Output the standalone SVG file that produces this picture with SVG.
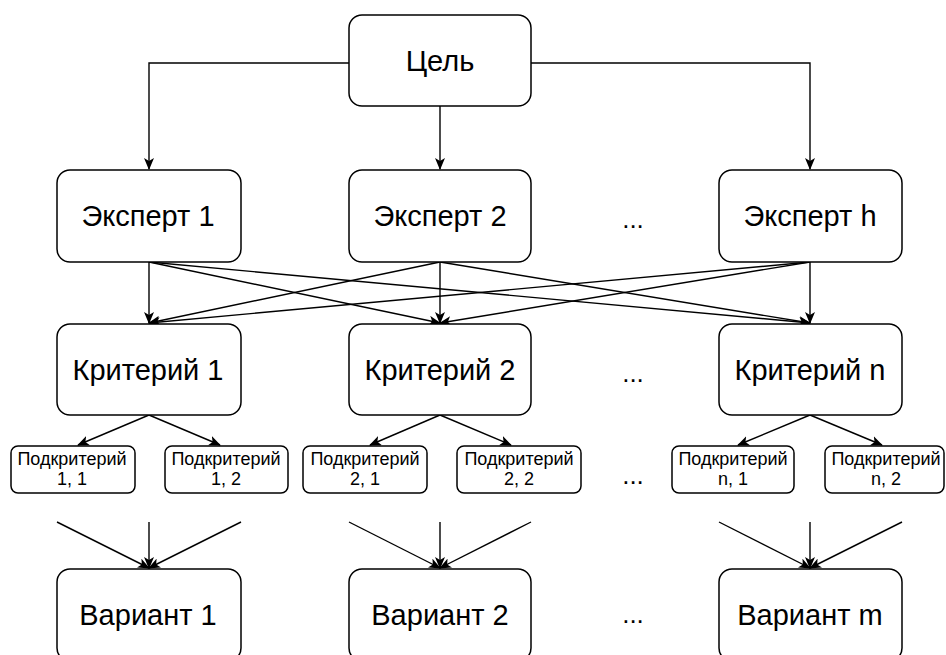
<svg xmlns="http://www.w3.org/2000/svg" width="946" height="655" viewBox="0 0 946 655">
<style>
.box{fill:#fff;stroke:#000;stroke-width:1.5}
.t{font-family:"Liberation Sans",Arial,sans-serif;font-size:29px;fill:#000;text-anchor:middle}
.s{font-family:"Liberation Sans",Arial,sans-serif;font-size:18px;fill:#000;text-anchor:middle}
.d{font-family:"Liberation Sans",Arial,sans-serif;font-size:26px;fill:#000;text-anchor:middle}
.c{fill:none;stroke:#000;stroke-width:1.4}
</style>
<defs>
<marker id="a" viewBox="0 0 12 10" refX="11" refY="5" markerWidth="12" markerHeight="10" markerUnits="userSpaceOnUse" orient="auto">
<path d="M0,0 L12,5 L0,10 L3,5 Z" fill="#000"/>
</marker>
</defs>
<rect width="946" height="655" fill="#fff"/>
<g id="connectors" class="c" marker-end="url(#a)">
<path d="M349,63 H149 V169"/>
<path d="M440,106 V169"/>
<path d="M531,63 H810 V169"/>
<path d="M149,262 L149,323"/>
<path d="M149,262 L440,323"/>
<path d="M149,262 L810,323"/>
<path d="M440,262 L149,323"/>
<path d="M440,262 L440,323"/>
<path d="M440,262 L810,323"/>
<path d="M810,262 L149,323"/>
<path d="M810,262 L440,323"/>
<path d="M810,262 L810,323"/>
<path d="M149,415 L78,445"/>
<path d="M149,415 L220,445"/>
<path d="M440,415 L370,445"/>
<path d="M440,415 L511,445"/>
<path d="M810,415 L738,445"/>
<path d="M810,415 L882,445"/>
<path d="M57,522 L149,568"/>
<path d="M149,522 L149,568"/>
<path d="M241,522 L149,568"/>
<path d="M349,522 L440,568"/>
<path d="M440,522 L440,568"/>
<path d="M531,522 L440,568"/>
<path d="M719,522 L810,568"/>
<path d="M810,522 L810,568"/>
<path d="M902,522 L810,568"/>
</g>
<g id="goal"><rect class="box" x="349" y="15" width="182" height="91" rx="13"/><text class="t" x="440" y="71">Цель</text></g>
<g id="expert1"><rect class="box" x="57" y="170" width="184" height="92" rx="13"/><text class="t" x="148" y="226">Эксперт 1</text></g>
<g id="expert2"><rect class="box" x="349" y="170" width="182" height="92" rx="13"/><text class="t" x="440" y="226">Эксперт 2</text></g>
<g id="experth"><rect class="box" x="719" y="170" width="183" height="92" rx="13"/><text class="t" x="810" y="226">Эксперт h</text></g>
<g id="crit1"><rect class="box" x="57" y="324" width="184" height="91" rx="13"/><text class="t" x="148" y="380">Критерий 1</text></g>
<g id="crit2"><rect class="box" x="349" y="324" width="182" height="91" rx="13"/><text class="t" x="440" y="380">Критерий 2</text></g>
<g id="critn"><rect class="box" x="719" y="324" width="183" height="91" rx="13"/><text class="t" x="810" y="380">Критерий n</text></g>
<g id="sub11"><rect class="box" x="11" y="446" width="124" height="47" rx="7"/><text class="s" x="72" y="465">Подкритерий</text><text class="s" x="72" y="485">1, 1</text></g>
<g id="sub12"><rect class="box" x="165" y="446" width="123" height="47" rx="7"/><text class="s" x="226" y="465">Подкритерий</text><text class="s" x="226" y="485">1, 2</text></g>
<g id="sub21"><rect class="box" x="303" y="446" width="124" height="47" rx="7"/><text class="s" x="365" y="465">Подкритерий</text><text class="s" x="365" y="485">2, 1</text></g>
<g id="sub22"><rect class="box" x="457" y="446" width="124" height="47" rx="7"/><text class="s" x="519" y="465">Подкритерий</text><text class="s" x="519" y="485">2, 2</text></g>
<g id="subn1"><rect class="box" x="672" y="446" width="122" height="47" rx="7"/><text class="s" x="733" y="465">Подкритерий</text><text class="s" x="733" y="485">n, 1</text></g>
<g id="subn2"><rect class="box" x="825" y="446" width="119" height="47" rx="7"/><text class="s" x="886" y="465">Подкритерий</text><text class="s" x="886" y="485">n, 2</text></g>
<g id="var1"><rect class="box" x="57" y="569" width="184" height="92" rx="13"/><text class="t" x="148" y="625">Вариант 1</text></g>
<g id="var2"><rect class="box" x="349" y="569" width="182" height="92" rx="13"/><text class="t" x="440" y="625">Вариант 2</text></g>
<g id="varm"><rect class="box" x="719" y="569" width="183" height="92" rx="13"/><text class="t" x="810" y="625">Вариант m</text></g>
<g id="dots">
<text class="d" x="633" y="228">...</text>
<text class="d" x="633" y="382">...</text>
<text class="d" x="633" y="484">...</text>
<text class="d" x="633" y="623">...</text>
</g>
</svg>
